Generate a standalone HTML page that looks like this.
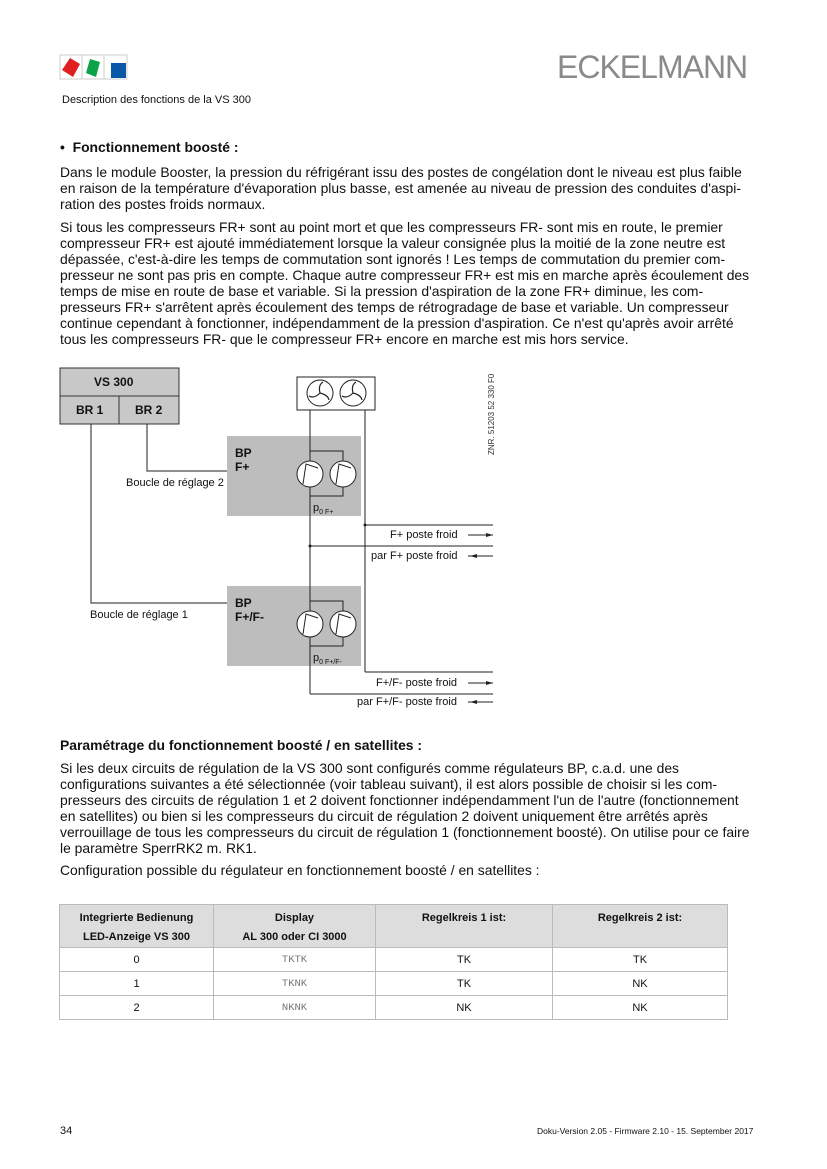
<!DOCTYPE html>
<html><head><meta charset="utf-8"><style>
body{margin:0;background:#fff;}
#p{position:relative;width:827px;height:1169px;overflow:hidden;font-family:"Liberation Sans",Arial,sans-serif;color:#111;}
.l{position:absolute;left:60px;font-size:13.9px;line-height:16px;white-space:nowrap;}
.s{position:absolute;font-size:11px;white-space:nowrap;line-height:12px;}
table{position:absolute;left:59px;top:904px;width:669px;border-collapse:collapse;font-size:11px;}
td{border:1px solid #bbb;text-align:center;height:23px;padding:0;line-height:14px;}
th{border:1px solid #bbb;background:#ddd;font-weight:bold;height:37px;vertical-align:top;padding:4px 0 0 0;line-height:19px;}
.m{font-family:"Liberation Mono",monospace;color:#777;font-size:10.5px;}
</style></head><body><div id="p">
<svg style="position:absolute;left:0;top:0" width="827" height="1169">
<rect x="60" y="55" width="67" height="24" fill="none" stroke="#ccc"/>
<line x1="82" y1="55" x2="82" y2="79" stroke="#ccc"/><line x1="104" y1="55" x2="104" y2="79" stroke="#ccc"/>
<polygon points="70,58 80,64 73,77 62,70" fill="#e0201f"/>
<polygon points="90,59 100,62 96,77 86,73" fill="#0ea24a"/>
<rect x="111" y="63" width="15" height="15" fill="#0a57a8"/>
<rect x="60" y="368" width="119" height="56" fill="#c8c8c8" stroke="#333"/>
<line x1="60" y1="396" x2="179" y2="396" stroke="#333"/><line x1="119" y1="396" x2="119" y2="424" stroke="#333"/>
<rect x="227" y="436" width="134" height="80" fill="#bdbdbd"/>
<rect x="227" y="586" width="134" height="80" fill="#bdbdbd"/>
<rect x="297" y="377" width="78" height="33" fill="#fff" stroke="#222"/>
<circle cx="320" cy="393" r="13" fill="none" stroke="#222"/><circle cx="353" cy="393" r="13" fill="none" stroke="#222"/>
<g stroke="#222" fill="none" stroke-width="1.2">
<path d="M320,393 q-2,-8 3,-11 M320,393 q8,2 9,7 M320,393 q-6,6 -11,3"/>
<path d="M353,393 q-2,-8 3,-11 M353,393 q8,2 9,7 M353,393 q-6,6 -11,3"/>
</g>
<g stroke="#222" fill="none">
<polyline points="91,424 91,603 227,603"/>
<polyline points="147,424 147,471 227,471"/>
<line x1="310" y1="410" x2="310" y2="694"/>
<line x1="365" y1="410" x2="365" y2="672"/>
<polyline points="310,451 343,451 343,461"/><polyline points="310,496 343,496 343,487"/>
<polyline points="310,601 343,601 343,611"/><polyline points="310,646 343,646 343,637"/>
<line x1="365" y1="525" x2="493" y2="525"/><line x1="310" y1="546" x2="493" y2="546"/>
<line x1="365" y1="672" x2="493" y2="672"/><line x1="310" y1="694" x2="493" y2="694"/>
<line x1="468" y1="535" x2="493" y2="535"/><line x1="468" y1="556" x2="493" y2="556"/>
<line x1="468" y1="683" x2="493" y2="683"/><line x1="468" y1="702" x2="493" y2="702"/>
</g>
<g fill="#222"><polygon points="493,535 486,533 486,537"/><polygon points="470,556 477,554 477,558"/>
<polygon points="493,683 486,681 486,685"/><polygon points="470,702 477,700 477,704"/>
<circle cx="365" cy="525" r="1.5"/><circle cx="310" cy="546" r="1.5"/></g>
<g fill="#fff" stroke="#222">
<circle cx="310" cy="474" r="13"/><circle cx="343" cy="474" r="13"/>
<circle cx="310" cy="624" r="13"/><circle cx="343" cy="624" r="13"/></g>
<g stroke="#222" fill="none">
<path d="M303,484 L306,464 L318,468 M336,484 L339,464 L351,468"/>
<path d="M303,634 L306,614 L318,618 M336,634 L339,614 L351,618"/></g>
<text x="494" y="455" transform="rotate(-90 494 455)" font-family="Liberation Sans" font-size="8" fill="#333">ZNR. 51203 52 330 F0</text>
</svg>
<div class="s" style="left:94px;top:376px;font-weight:bold;font-size:12px">VS 300</div>
<div class="s" style="left:76px;top:404px;font-weight:bold;font-size:12px">BR 1</div>
<div class="s" style="left:135px;top:404px;font-weight:bold;font-size:12px">BR 2</div>
<div class="s" style="left:235px;top:446px;font-weight:bold;font-size:12px;line-height:14px">BP<br>F+</div>
<div class="s" style="left:235px;top:596px;font-weight:bold;font-size:12px;line-height:14px">BP<br>F+/F-</div>
<div class="s" style="left:126px;top:477px">Boucle de réglage 2</div>
<div class="s" style="left:90px;top:609px">Boucle de réglage 1</div>
<div class="s" style="left:313px;top:502px">p<sub style="font-size:7px">0 F+</sub></div>
<div class="s" style="left:313px;top:652px">p<sub style="font-size:7px">0 F+/F-</sub></div>
<div class="s" style="left:390px;top:529px">F+ poste froid</div>
<div class="s" style="left:371px;top:550px">par F+ poste froid</div>
<div class="s" style="left:376px;top:677px">F+/F- poste froid</div>
<div class="s" style="left:357px;top:696px">par F+/F- poste froid</div>
<div style="position:absolute;left:557px;top:49px;font-size:32px;color:#8a8a8a;letter-spacing:-1px;">ECKELMANN</div>
<div class="s" style="left:62px;top:94px">Description des fonctions de la VS 300</div>
<div class="l" style="top:139px;font-weight:bold">•&nbsp; Fonctionnement boosté :</div>
<div class="l" style="top:164px">Dans le module Booster, la pression du réfrigérant issu des postes de congélation dont le niveau est plus faible<br>en raison de la température d'évaporation plus basse, est amenée au niveau de pression des conduites d'aspi-<br>ration des postes froids normaux.</div>
<div class="l" style="top:219px">Si tous les compresseurs FR+ sont au point mort et que les compresseurs FR- sont mis en route, le premier<br>compresseur FR+ est ajouté immédiatement lorsque la valeur consignée plus la moitié de la zone neutre est<br>dépassée, c'est-à-dire les temps de commutation sont ignorés ! Les temps de commutation du premier com-<br>presseur ne sont pas pris en compte. Chaque autre compresseur FR+ est mis en marche après écoulement des<br>temps de mise en route de base et variable. Si la pression d'aspiration de la zone FR+ diminue, les com-<br>presseurs FR+ s'arrêtent après écoulement des temps de rétrogradage de base et variable. Un compresseur<br>continue cependant à fonctionner, indépendamment de la pression d'aspiration. Ce n'est qu'après avoir arrêté<br>tous les compresseurs FR- que le compresseur FR+ encore en marche est mis hors service.</div>
<div class="l" style="top:737px;font-weight:bold">Paramétrage du fonctionnement boosté / en satellites :</div>
<div class="l" style="top:760px">Si les deux circuits de régulation de la VS 300 sont configurés comme régulateurs BP, c.a.d. une des<br>configurations suivantes a été sélectionnée (voir tableau suivant), il est alors possible de choisir si les com-<br>presseurs des circuits de régulation 1 et 2 doivent fonctionner indépendamment l'un de l'autre (fonctionnement<br>en satellites) ou bien si les compresseurs du circuit de régulation 2 doivent uniquement être arrêtés après<br>verrouillage de tous les compresseurs du circuit de régulation 1 (fonctionnement boosté). On utilise pour ce faire<br>le paramètre SperrRK2 m. RK1.</div>
<div class="l" style="top:862px">Configuration possible du régulateur en fonctionnement boosté / en satellites :</div>
<table>
<tr><th style="width:153px">Integrierte Bedienung<br>LED-Anzeige VS 300</th><th style="width:161px">Display<br>AL 300 oder CI 3000</th><th style="width:176px">Regelkreis 1 ist:</th><th>Regelkreis 2 ist:</th></tr>
<tr><td>0</td><td class="m">TKTK</td><td>TK</td><td>TK</td></tr>
<tr><td>1</td><td class="m">TKNK</td><td>TK</td><td>NK</td></tr>
<tr><td>2</td><td class="m">NKNK</td><td>NK</td><td>NK</td></tr>
</table>
<div class="s" style="left:60px;top:1125px">34</div>
<div class="s" style="left:537px;top:1125px;font-size:8.5px">Doku-Version 2.05 - Firmware 2.10 - 15. September 2017</div>
</div></body></html>
